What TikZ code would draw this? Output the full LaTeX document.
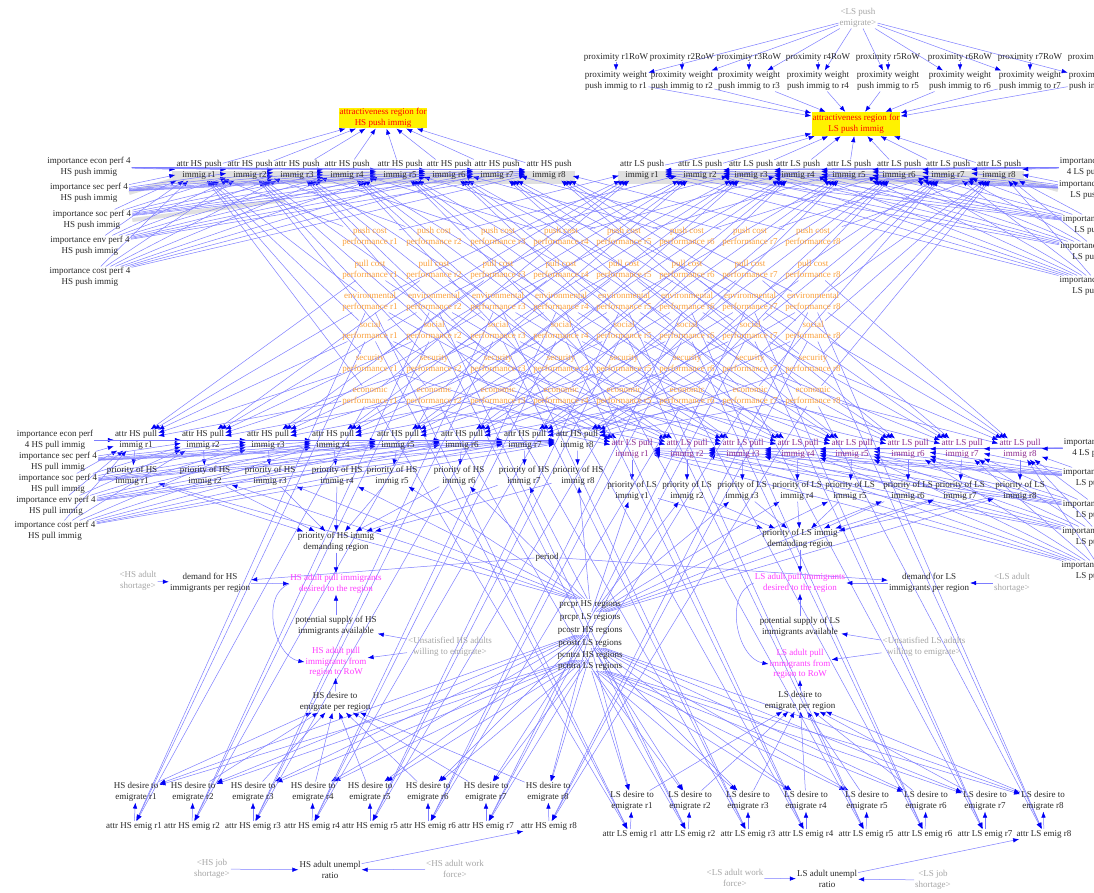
\documentclass[tikz,border=0pt]{standalone}
\usepackage{fontspec}
\setmainfont{Liberation Serif}
\usetikzlibrary{arrows.meta}
\definecolor{lnc}{RGB}{125,125,255}
\definecolor{tipc}{RGB}{0,0,245}
\definecolor{perfc}{RGB}{250,160,60}
\definecolor{shadowc}{RGB}{165,165,165}
\definecolor{purp}{RGB}{140,40,140}
\definecolor{pinkc}{RGB}{255,60,255}
\definecolor{txt}{RGB}{40,40,40}
\pgfdeclarelayer{back}
\pgfdeclarelayer{lines}
\pgfsetlayers{back,lines,main}
\tikzset{
  v/.style={font=\fontsize{9}{10.5}\selectfont, align=center, inner sep=1pt, text=txt},
  perf/.style={v, text=perfc},
  shad/.style={v, text=shadowc},
  pullv/.style={v, text=purp},
  pinkv/.style={v, text=pinkc},
  conn/.style={draw=lnc, line width=0.5pt, -{Latex[length=6pt,width=4.5pt,color=tipc]}},
  ybox/.style={v, fill=yellow, text=red, minimum width=88pt, minimum height=22pt},
  grayband/.style={fill=black!12, draw=none},
  grayline/.style={draw=black!12, line width=4pt},
}
\begin{document}
\begin{tikzpicture}[x=1pt,y=-1pt]
\useasboundingbox (0,0) rectangle (1094,893);
\clip (0,0) rectangle (1094,893);

% ---------- top: proximity ----------
\node[shad] (lspe) at (858,18) {<LS push\\emigrate>};
\foreach \x [count=\i] in {616,682,749,818,888,960,1030,1100} {
  \node[v] (prw\i) at (\x,57) {proximity r\i RoW};
  \node[v] (pw\i) at (\x,81) {proximity weight\\push immig to r\i};
}
\node[ybox, minimum width=86pt, minimum height=24pt] (yLS) at (856,124) {attractiveness region for\\LS push immig};
\node[ybox, minimum height=20pt] (yHS) at (383,118) {attractiveness region for\\HS push immig};

% ---------- push rows ----------
\begin{pgfonlayer}{back}
  \fill[grayband] (172,171) rectangle (575,184);
  \fill[grayband] (618,171) rectangle (1024,184);
\end{pgfonlayer}
\foreach \x [count=\i] in {199,250,297,347,400,449,497,549} {
  \node[v] (hpu\i) at (\x,170) {attr HS push\\immig r\i};
}
\foreach \x [count=\i] in {642,700,751,798,849,899,948,999} {
  \node[v] (lpu\i) at (\x,170) {attr LS push\\immig r\i};
}
\node[v] (ihp1) at (89,167) {importance econ perf 4\\HS push immig};
\foreach \t/\x/\y [count=\k from 2] in {sec/89/193,soc/92/220,env/90/246,cost/90/277} {
  \node[v] (ihp\k) at (\x,\y) {importance \t\ perf 4\\HS push immig};
}
\node[v] (ilp1) at (1098,167) {importance econ perf\\4 LS push immig};
\foreach \t/\x/\y [count=\k from 2] in {sec/1098/190,soc/1102/225,env/1100/252,cost/1100/286} {
  \node[v] (ilp\k) at (\x,\y) {importance \t\ perf 4\\LS push immig};
}
\begin{pgfonlayer}{back}
  \draw[grayline] (ihp2.east) -- (172,180);
  \draw[grayline] (ihp3.east) -- (285,200);
  \draw[grayline] (ilp2.west) -- (1024,180);
\end{pgfonlayer}

% ---------- performance grid ----------
\foreach \x [count=\i] in {370,434,498,561,624,687,750,813} {
  \node[perf] (pc\i)  at (\x,237) {push cost\\performance r\i};
  \node[perf] (plc\i) at (\x,270) {pull cost\\performance r\i};
  \node[perf] (env\i) at (\x,302) {environmental\\performance r\i};
  \node[perf] (soc\i) at (\x,331) {social\\performance r\i};
  \node[perf] (sec\i) at (\x,364) {security\\performance r\i};
  \node[perf] (eco\i) at (\x,396) {economic\\performance r\i};
}

% ---------- pull rows ----------
\foreach \x [count=\i] in {136,203,268,333,398,462,525,577} {
  \node[v] (hpl\i) at (\x,440) {attr HS pull\\immig r\i};
}
\foreach \x [count=\i] in {632,687,743,798,852,908,962,1020} {
  \node[pullv] (lpl\i) at (\x,449) {attr LS pull\\immig r\i};
}
\foreach \x [count=\i] in {132,205,270,337,392,459,524,578} {
  \node[v] (prh\i) at (\x,476) {priority of HS\\immig r\i};
}
\foreach \x [count=\i] in {632,687,742,797,850,908,960,1020} {
  \node[v] (prl\i) at (\x,491) {priority of LS\\immig r\i};
}
\node[v] (ihl1) at (55,440) {importance econ perf\\4 HS pull immig};
\foreach \t/\x/\y [count=\k from 2] in {sec/58/462,soc/58/484,env/56/506,cost/55/531} {
  \node[v] (ihl\k) at (\x,\y) {importance \t\ perf 4\\HS pull immig};
}
\node[v] (ill1) at (1102,448) {importance econ perf\\4 LS pull immig};
\foreach \t/\x/\y [count=\k from 2] in {sec/1102/478,soc/1102/510,env/1102/537,cost/1102/571} {
  \node[v] (ill\k) at (\x,\y) {importance \t\ perf 4\\LS pull immig};
}

% ---------- middle ----------
\node[v] (prhd) at (336,542) {priority of HS immig\\demanding region};
\node[v] (prld) at (800,539) {priority of LS immig\\demanding region};
\node[v] (period) at (547,557) {period};
\node[shad] (hshort) at (138,581) {<HS adult\\shortage>};
\node[v] (hdem) at (210,583) {demand for HS\\immigrants per region};
\node[pinkv] (hpink1) at (336,584) {HS adult pull immigrants\\desired to the region};
\node[v] (hpot) at (336,626) {potential supply of HS\\immigrants available};
\node[shad] (hunsat) at (450,647) {<Unsatisfied HS adults\\willing to emigrate>};
\node[pinkv] (hpink2) at (336,662) {HS adult pull\\immigrants from\\region to RoW};
\node[v] (hdpr) at (335,702) {HS desire to\\emigrate per region};

\node[shad] (lshort) at (1012,583) {<LS adult\\shortage>};
\node[v] (ldem) at (929,583) {demand for LS\\immigrants per region};
\node[pinkv] (lpink1) at (800,583) {LS adult pull immigrants\\desired to the region};
\node[v] (lpot) at (800,627) {potential supply of LS\\immigrants available};
\node[shad] (lunsat) at (924,647) {<Unsatisfied LS adults\\willing to emigrate>};
\node[pinkv] (lpink2) at (800,664) {LS adult pull\\immigrants from\\region to RoW};
\node[v] (ldpr) at (800,701) {LS desire to\\emigrate per region};

\foreach \t/\y [count=\k] in {prcpr HS regions/604,prcpr LS regions/617,pcostr HS regions/630,pcostr LS regions/643,pcntra HS regions/655,pcntra LS regions/666} {
  \node[v] (b\k) at (590,\y) {\t};
}

% ---------- bottom ----------
\foreach \x [count=\i] in {136,193,253,313,370,428,486,548} {
  \node[v] (hde\i) at (\x,792) {HS desire to\\emigrate r\i};
}
\foreach \x [count=\i] in {134,192,253,312,370,428,486,549} {
  \node[v] (hem\i) at (\x,826) {attr HS emig r\i};
}
\foreach \x [count=\i] in {632,690,748,806,867,926,985,1043} {
  \node[v] (lde\i) at (\x,801) {LS desire to\\emigrate r\i};
}
\foreach \x [count=\i] in {630,688,748,806,866,925,985,1044} {
  \node[v] (lem\i) at (\x,834) {attr LS emig r\i};
}
\node[shad] (hjob) at (212,869) {<HS job\\shortage>};
\node[v] (hun) at (330,870) {HS adult unempl\\ratio};
\node[shad] (hwf) at (455,869) {<HS adult work\\force>};
\node[shad] (lwf) at (735,878) {<LS adult work\\force>};
\node[v] (lun) at (827,879) {LS adult unempl\\ratio};
\node[shad] (ljob) at (933,880) {<LS job\\shortage>};

% ---------- connectors ----------
\begin{pgfonlayer}{lines}
\foreach \i in {1,...,8} {
  \draw[conn] (prw\i) -- (pw\i);
  \draw[conn] (lspe) -- (pw\i);
  \draw[conn] (pw\i) -- (yLS);
  \draw[conn] (lpu\i) -- (yLS);
  \draw[conn] (hpu\i) -- (yHS);
  \draw[conn] (hpl\i) -- (prh\i);
  \draw[conn] (lpl\i) -- (prl\i);
  \draw[conn] (prh\i) -- (prhd);
  \draw[conn] (prl\i) -- (prld);
  \draw[conn] (b1) -- (prh\i);
  \draw[conn] (b2) -- (prl\i);
  \draw[conn] (hem\i) -- (hde\i);
  \draw[conn] (lem\i) -- (lde\i);
  \draw[conn] (hde\i) -- (hdpr);
  \draw[conn] (lde\i) -- (ldpr);
  \draw[conn] (b3) -- (hde\i);
  \draw[conn] (b5) -- (hde\i);
  \draw[conn] (b4) -- (lde\i);
  \draw[conn] (b6) -- (lde\i);
  \draw[conn] (eco\i) -- (hem\i);
  \draw[conn] (soc\i) -- (hem\i);
  \draw[conn] (env\i) -- (hem\i);
  \draw[conn] (eco\i) -- (lem\i);
  \draw[conn] (soc\i) -- (lem\i);
  \draw[conn] (env\i) -- (lem\i);
  \draw[conn] (pc\i) -- (hpu\i);
  \draw[conn] (pc\i) -- (lpu\i);
  \draw[conn] (plc\i) -- (hpl\i);
  \draw[conn] (plc\i) -- (lpl\i);
  \foreach \r in {env,soc,sec,eco} {
    \draw[conn] (\r\i) -- (hpu\i);
    \draw[conn] (\r\i) -- (lpu\i);
    \draw[conn] (\r\i) -- (hpl\i);
    \draw[conn] (\r\i) -- (lpl\i);
  }
  \foreach \k in {1,...,5} {
    \draw[conn] (ihp\k) -- (hpu\i);
    \draw[conn] (ilp\k) -- (lpu\i);
    \draw[conn] (ihl\k) -- (hpl\i);
    \draw[conn] (ill\k) -- (lpl\i);
  }
}
\draw[conn] (prhd) -- (hpink1);
\draw[conn] (hdem) -- (hpink1);
\draw[conn] (hshort) -- (hdem);
\draw[conn] (period) -- (hdem);
\draw[conn] (hpot) -- (hpink1);
\draw[conn] (hunsat) -- (hpot);
\draw[conn] (hunsat) -- (hpink2);
\draw[conn] (hdpr) -- (hpink2);
\draw[conn] (hpink1.west) to[out=200,in=170] (hpink2.west);
\draw[conn] (prld) -- (lpink1);
\draw[conn] (ldem) -- (lpink1);
\draw[conn] (lshort) -- (ldem);
\draw[conn] (period) -- (ldem);
\draw[conn] (lpot) -- (lpink1);
\draw[conn] (lunsat) -- (lpot);
\draw[conn] (lunsat) -- (lpink2);
\draw[conn] (ldpr) -- (lpink2);
\draw[conn] (lpink1.west) to[out=200,in=170] (lpink2.west);
\draw[conn] (hjob) -- (hun);
\draw[conn] (hwf) -- (hun);
\draw[conn] (hun) -- (hem8);
\draw[conn] (lwf) -- (lun);
\draw[conn] (ljob) -- (lun);
\draw[conn] (lun) -- (lem8);
\end{pgfonlayer}
\end{tikzpicture}
\end{document}
